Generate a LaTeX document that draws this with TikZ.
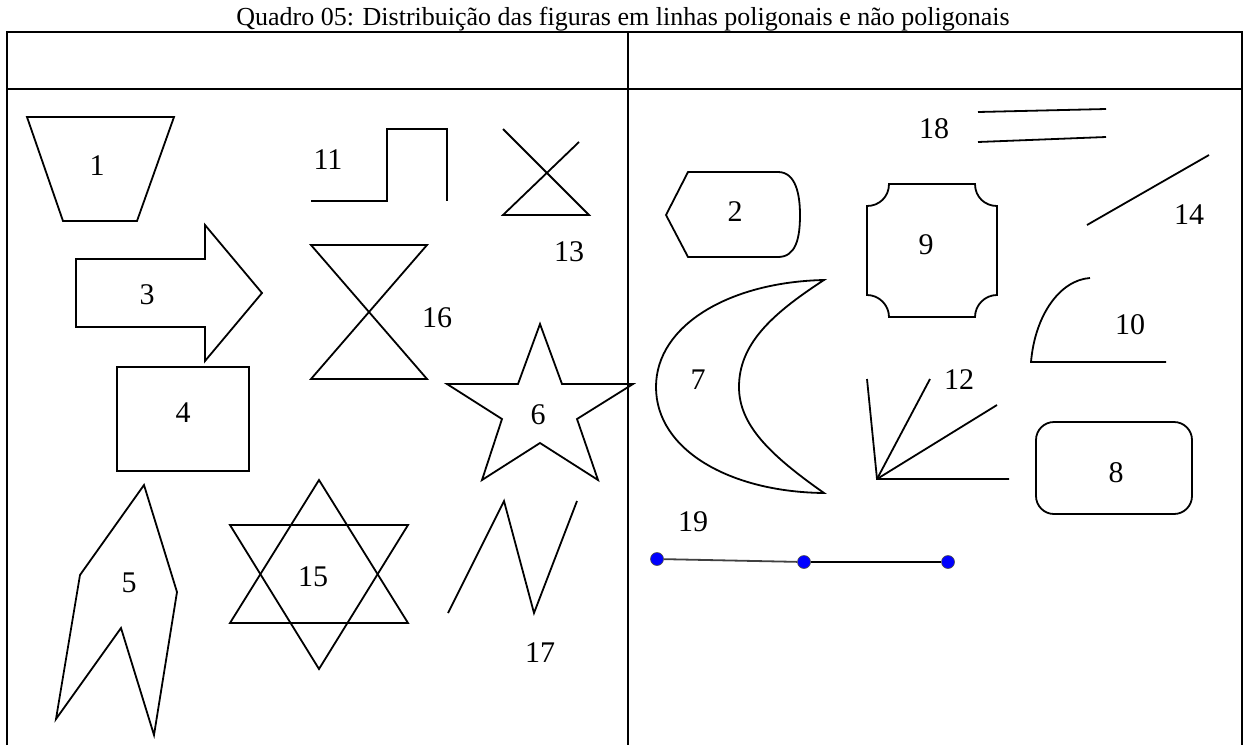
\documentclass[tikz,border=0pt]{standalone}
\usepackage{fontspec}
\setmainfont{Liberation Serif}
\usepackage{tikz}
\usetikzlibrary{positioning, calc}
\definecolor{dotblue}{HTML}{0000FF}

\begin{document}
\begin{tikzpicture}[
    x=1pt, y=-1pt,
    frame/.style={draw=black, line width=2.2pt},
    figline/.style={draw=black, line width=1.8pt, line join=miter},
    num/.style={font=\fontsize{30}{33}\selectfont, inner sep=0pt},
    caption/.style={font=\fontsize{26}{30}\selectfont, inner sep=0pt},
    pt/.style={circle, fill=dotblue, draw=black!70, line width=0.6pt, inner sep=0pt, minimum size=13pt}
]
\useasboundingbox (0,0) rectangle (1248,745);

% title and table
\node[caption, anchor=base] (title) at (623,25) {Quadro 05: Distribuição das figuras em linhas poligonais e não poligonais};
\draw[frame] (7,745) -- (7,32) -- (1242,32) -- (1242,745);
\draw[frame] (7,89) -- (1242,89);
\draw[frame] (628,32) -- (628,745);

% left column
\draw[figline] (27,117) -- (174,117) -- (137,221) -- (63,221) -- cycle;
\node[num] (l1) at (97,166) {1};
\draw[figline] (76,259) -- (205,259) -- (205,225) -- (262,293) -- (205,361) -- (205,327) -- (76,327) -- cycle;
\node[num] (l3) at (147,295) {3};
\draw[figline] (117,367) rectangle (249,471);
\node[num] (l4) at (183,413) {4};
\draw[figline] (144,485) -- (177,592) -- (154,735) -- (121,628) -- (56,719) -- (80,575) -- cycle;
\node[num] (l5) at (129,583) {5};
\draw[figline] (311,201) -- (387,201) -- (387,129) -- (447,129) -- (447,201);
\node[num] (l11) at (328,160) {11};
\draw[figline] (503,129) -- (589,215) -- (503,215) -- (579,142);
\node[num] (l13) at (569,252) {13};
\draw[figline] (311,245) -- (427,245) -- (311,379) -- (427,379) -- cycle;
\node[num] (l16) at (437,318) {16};
\draw[figline] (540,324) -- (562,384) -- (633,384) -- (577,419) -- (598,480) -- (540,443)
    -- (482,480) -- (502,419) -- (447,384) -- (518,384) -- cycle;
\node[num] (l6) at (538,415) {6};
\draw[figline] (319,480) -- (408,623) -- (230,623) -- cycle;
\draw[figline] (230,525) -- (408,525) -- (319,669) -- cycle;
\node[num] (l15) at (313,577) {15};
\draw[figline] (448,613) -- (504,501) -- (534,613) -- (577,501);
\node[num] (l17) at (540,653) {17};

% right column
\draw[figline] (978,112) -- (1106,109);
\draw[figline] (978,142) -- (1106,137);
\node[num] (l18) at (934,129) {18};
\draw[figline] (666,215) -- (688,172) -- (778,172) .. controls (796,172) and (800,195) .. (800,215)
    .. controls (800,238) and (796,257) .. (778,257) -- (688,257) -- cycle;
\node[num] (l2) at (735,212) {2};
\draw[figline] (889,184) -- (975,184) .. controls (975,197) and (985,206) .. (997,206)
    -- (997,295) .. controls (985,295) and (975,305) .. (975,317)
    -- (889,317) .. controls (889,305) and (879,295) .. (867,295)
    -- (867,206) .. controls (879,206) and (889,197) .. (889,184) -- cycle;
\node[num] (l9) at (926,245) {9};
\draw[figline] (1087,225) -- (1209,155);
\node[num] (l14) at (1189,215) {14};
\draw[figline] (824,280) .. controls (730,282) and (656,325) .. (656,387)
    .. controls (656,450) and (730,492) .. (824,493)
    .. controls (770,455) and (739,425) .. (739,387)
    .. controls (739,345) and (770,315) .. (824,280) -- cycle;
\node[num] (l7) at (698,380) {7};
\draw[figline] (1090,278) .. controls (1060,280) and (1035,315) .. (1031,362) -- (1166,362);
\node[num] (l10) at (1130,325) {10};
\coordinate (apex) at (877,479);
\draw[figline] (867,379) -- (apex) -- (1009,479);
\draw[figline] (apex) -- (930,379);
\draw[figline] (apex) -- (997,405);
\node[num] (l12) at (959,380) {12};
\draw[figline, rounded corners=18pt] (1036,422) rectangle (1192,514);
\node[num] (l8) at (1116,473) {8};
\node[num] (l19) at (693,522) {19};
\node[pt] (p1) at (657,559) {};
\node[pt] (p2) at (804,562) {};
\node[pt] (p3) at (948,562) {};
\draw[line width=1.8pt, black!75] (p1) -- (p2);
\draw[line width=1.8pt] (p2) -- (p3);
\end{tikzpicture}
\end{document}
